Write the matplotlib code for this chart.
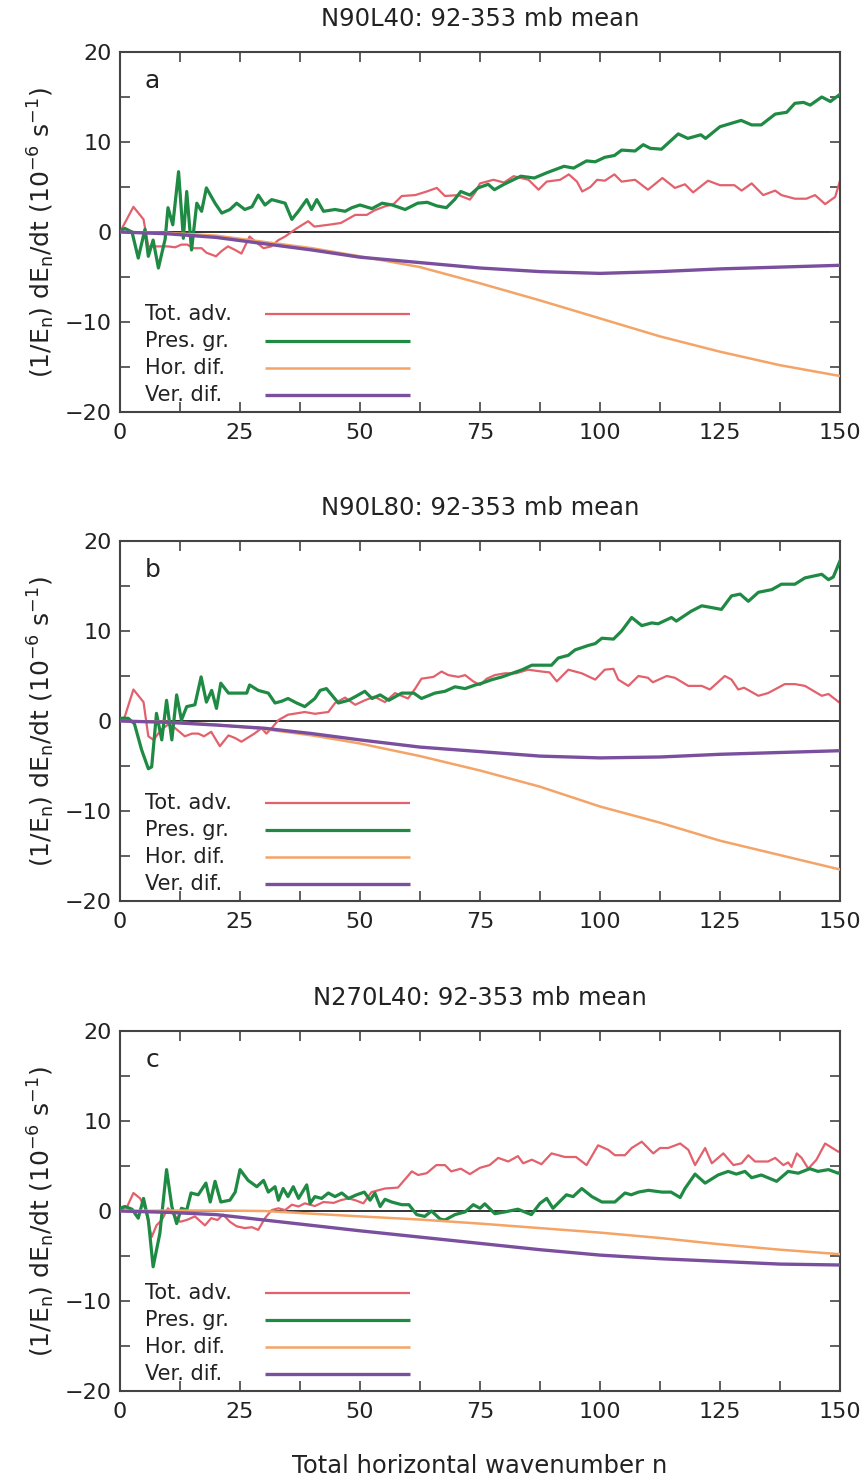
import numpy as np
import matplotlib
matplotlib.use("Agg")
import matplotlib.pyplot as plt

# ---- data: (1/E_n) dE_n/dt, 92-353 mb mean, units 1e-6 s^-1 ----
TITLES = ["N90L40: 92-353 mb mean", "N90L80: 92-353 mb mean", "N270L40: 92-353 mb mean"]
PANEL_TAGS = ["a", "b", "c"]
LABELS = ["Tot. adv.", "Pres. gr.", "Hor. dif.", "Ver. dif."]
COLORS = ["#e2616c", "#1f8a43", "#f4a466", "#7a4f9e"]
WIDTHS = [1.6, 2.3, 1.8, 2.4]

# smooth diffusion terms sampled on a common grid
N_SMOOTH = [0, 10, 20, 30, 40, 50, 62.5, 75, 87.5, 100, 112.5, 125, 137.5, 150]

# panel a
A_ADV_N = [0, 1, 2.8, 4.9, 5.9, 7.6, 10, 11.5, 12.8, 14, 15.3, 17, 18, 20, 21.2, 22.5, 24, 25.3, 27,
           28.5, 29.9, 31.5, 33, 34.4, 36.8, 39.2, 40.5, 43.4, 46, 49, 51.4, 53, 55.2, 57, 58.7, 61.5,
           63.9, 66, 67.7, 70.5, 72.9, 74, 75, 77.8, 80, 82, 85.1, 87.2, 88.9, 91.7, 93.5, 95.2, 96.3,
           98, 99.4, 101, 103, 104.5, 107.3, 110, 113, 115.6, 117.7, 119.4, 122.5, 125, 128, 129.5,
           131.6, 134, 136.5, 137.8, 140.6, 143, 144.8, 146.9, 149, 150]
A_ADV_V = [0.0, 1.0, 2.8, 1.4, -1.6, -1.6, -1.6, -1.7, -1.4, -1.4, -1.8, -1.8, -2.3, -2.7, -2.1, -1.6,
           -2.0, -2.4, -0.5, -1.2, -1.8, -1.6, -0.9, -0.5, 0.4, 1.2, 0.6, 0.8, 1.0, 1.9, 1.9, 2.4, 2.85,
           3.1, 4.0, 4.1, 4.5, 4.9, 4.0, 4.1, 3.6, 4.4, 5.4, 5.8, 5.5, 6.2, 5.8, 4.7, 5.6, 5.8, 6.4, 5.6,
           4.5, 5.0, 5.8, 5.7, 6.4, 5.6, 5.8, 4.7, 6.0, 4.9, 5.3, 4.4, 5.7, 5.2, 5.2, 4.6, 5.4, 4.1,
           4.6, 4.1, 3.7, 3.7, 4.1, 3.1, 3.9, 5.7]
A_PGF_N = [0, 1, 2.5, 3.8, 5.2, 5.9, 6.9, 8, 9.4, 10, 11, 12.2, 13.2, 13.9, 14.9, 16, 17, 18, 19.8,
           21.2, 22.9, 24.3, 26, 27.5, 28.8, 30.2, 31.6, 33, 34.4, 35.8, 37.3, 38.9, 39.9, 41, 42.4,
           44.8, 46.9, 48.3, 50, 52.5, 54.6, 56.7, 59.4, 62, 64, 66, 68, 69.7, 71, 72.9, 74.6, 76.7,
           78, 80, 83.5, 86.3, 89, 92.5, 94.5, 97.2, 99, 101, 103, 104.5, 107.3, 109, 110.5, 112.8,
           116.3, 118.3, 121, 122, 125, 129.4, 131.6, 133.6, 136.5, 138.9, 140.6, 142.4, 143.8, 146.2,
           148, 150]
A_PGF_V = [0.1, 0.4, 0.0, -2.9, 0.3, -2.7, -0.9, -4.0, -0.8, 2.7, 0.8, 6.7, -0.7, 4.5, -2.0, 3.2,
           2.3, 4.9, 3.2, 2.1, 2.5, 3.2, 2.5, 2.8, 4.1, 3.0, 3.6, 3.4, 3.2, 1.4, 2.4, 3.6, 2.5, 3.6, 2.3,
           2.5, 2.3, 2.7, 3.0, 2.6, 3.2, 3.0, 2.5, 3.2, 3.3, 2.9, 2.7, 3.6, 4.5, 4.1, 4.9, 5.3, 4.7, 5.3,
           6.2, 6.0, 6.6, 7.3, 7.1, 7.9, 7.8, 8.3, 8.5, 9.1, 9.0, 9.7, 9.3, 9.2, 10.9, 10.4, 10.8, 10.4,
           11.7, 12.4, 11.9, 11.9, 13.1, 13.3, 14.3, 14.4, 14.1, 15.0, 14.5, 15.3]
A_HDIF_V = [0, -0.1, -0.4, -1.1, -1.8, -2.7, -3.9, -5.7, -7.6, -9.6, -11.6, -13.3, -14.8, -16.0]
A_VDIF_V = [0, -0.2, -0.6, -1.3, -2.0, -2.8, -3.4, -4.0, -4.4, -4.6, -4.4, -4.1, -3.9, -3.7]

# panel b
B_ADV_N = [0, 1, 2.8, 4.9, 5.9, 7, 8.5, 10, 11.5, 13.5, 15, 16.3, 17.5, 19, 20.8, 22.6, 24, 25.3, 28,
           29.5, 30.5, 31.6, 33, 35, 36.8, 38.5, 40.6, 43.4, 44.8, 46.9, 49, 51, 53, 55.2, 57.3, 60,
           61.5, 62.8, 65.3, 67, 68.4, 70.5, 71.9, 73.6, 75, 76.4, 78.1, 80.2, 82.5, 85, 87.8, 89.5,
           91, 93.4, 96.2, 99, 101, 102.8, 103.8, 105.9, 108, 110, 111, 113.9, 115.6, 118.4, 121.2,
           122.9, 126, 127.4, 128.8, 130, 133, 135, 138.5, 140.6, 142.7, 146.2, 147.6, 150]
B_ADV_V = [0.0, 0.5, 3.5, 2.1, -1.7, -2.1, -1.0, -0.4, -0.8, -1.7, -1.4, -1.4, -1.7, -1.2, -2.8, -1.6,
           -1.9, -2.3, -1.4, -0.8, -1.4, -0.8, 0.1, 0.7, 0.85, 1.0, 0.8, 1.0, 2.0, 2.6, 1.8, 2.3, 2.7,
           2.1, 3.1, 2.5, 3.6, 4.7, 4.9, 5.5, 5.1, 4.9, 5.1, 4.4, 4.0, 4.7, 5.1, 5.3, 5.3, 5.7, 5.5, 5.4,
           4.4, 5.7, 5.3, 4.6, 5.7, 5.8, 4.6, 3.9, 5.0, 4.8, 4.3, 5.0, 4.8, 3.9, 3.9, 3.5, 5.0, 4.6, 3.5,
           3.7, 2.8, 3.1, 4.1, 4.1, 3.9, 2.8, 3.0, 2.0]
B_PGF_N = [0, 1.7, 3, 4.5, 5.9, 6.6, 7.6, 8.7, 9.7, 10.8, 11.8, 12.8, 13.9, 15.6, 16.9, 18, 19.1,
           20.1, 21, 22.6, 24.7, 26.4, 27, 28.8, 30.9, 32.3, 33.7, 35, 36.8, 38.5, 40.6, 41.7, 43,
           45.5, 47.6, 49, 51, 52.5, 54.2, 56, 58.7, 61.2, 62.8, 65.6, 67.7, 69.8, 71.9, 74, 75.4,
           77.5, 79.6, 81.7, 83.8, 85.8, 89.9, 91.3, 93.4, 94.8, 97.6, 99, 100.4, 102.8, 104.5,
           106.6, 108.7, 110.8, 112.1, 114.9, 115.9, 119, 121.2, 123.3, 125.3, 127.4, 129.2, 130.9,
           133, 135.8, 137.8, 140.6, 142.7, 146.2, 147.6, 148.6, 150]
B_PGF_V = [0.3, 0.3, -0.3, -3.2, -5.3, -5.1, 0.85, -2.1, 2.3, -2.1, 2.9, 0.1, 1.6, 1.8, 4.9, 2.1, 3.4,
           1.4, 4.2, 3.1, 3.1, 3.1, 4.0, 3.4, 3.1, 2.0, 2.2, 2.5, 2.0, 1.6, 2.5, 3.4, 3.6, 2.0, 2.3, 2.7,
           3.3, 2.5, 2.9, 2.3, 3.1, 3.1, 2.5, 3.1, 3.3, 3.8, 3.6, 4.0, 4.2, 4.6, 4.9, 5.3, 5.7, 6.2, 6.2,
           7.0, 7.3, 7.9, 8.4, 8.6, 9.2, 9.1, 10.0, 11.5, 10.6, 10.9, 10.8, 11.5, 11.1, 12.2, 12.8,
           12.6, 12.4, 13.9, 14.1, 13.3, 14.3, 14.6, 15.2, 15.2, 15.9, 16.3, 15.7, 16.0, 17.8]
B_HDIF_V = [0, -0.1, -0.4, -0.9, -1.6, -2.5, -3.9, -5.5, -7.3, -9.5, -11.3, -13.3, -14.9, -16.5]
B_VDIF_V = [0, -0.15, -0.45, -0.8, -1.4, -2.1, -2.9, -3.4, -3.9, -4.1, -4.0, -3.7, -3.5, -3.3]

# panel c
C_ADV_N = [0, 1.5, 2.8, 4.2, 5.3, 6.6, 7.6, 8.7, 10, 11.5, 12.5, 13.9, 15.6, 17.7, 19, 20.3, 21.5,
           22.9, 24.3, 26, 27.5, 28.8, 30.2, 31.6, 33, 34.4, 35.8, 37.2, 38.5, 40.6, 42.4, 44.5, 46,
           47.6, 49, 50.7, 52.4, 55.2, 57.9, 60.8, 62.1, 63.9, 65.9, 67.7, 69, 71, 72.9, 75, 77, 78.8,
           80.9, 82.9, 84, 85.8, 87.8, 89.9, 92.7, 95, 97.2, 99.6, 101.7, 103.1, 105.2, 106.6, 108.7,
           111.1, 112.5, 114.2, 116.7, 118.4, 119.8, 121.9, 123.3, 125.7, 127.8, 129.5, 130.9, 132.3,
           135, 136.5, 138.2, 139.2, 139.9, 141, 142, 143.4, 145.1, 146.9, 149.6, 150]
C_ADV_V = [0.1, 0.5, 2.0, 1.4, 0.2, -2.9, -1.6, -1.0, 0.3, -0.6, -1.2, -1.0, -0.6, -1.6, -0.8, -1.0,
           -0.4, -1.2, -1.7, -1.9, -1.8, -2.1, -0.8, 0.1, 0.3, 0.1, 0.7, 0.5, 0.85, 0.55, 1.0, 0.9, 1.2,
           1.4, 1.2, 0.85, 2.1, 2.5, 2.6, 4.4, 4.0, 4.2, 5.1, 5.1, 4.4, 4.7, 4.1, 4.8, 5.1, 5.9, 5.5, 6.1,
           5.3, 5.7, 5.2, 6.4, 6.0, 6.0, 5.1, 7.3, 6.8, 6.2, 6.2, 7.0, 7.7, 6.4, 7.0, 7.0, 7.5, 6.8, 5.1,
           7.0, 5.3, 6.4, 5.1, 5.3, 6.2, 5.5, 5.5, 5.9, 5.1, 5.4, 4.9, 6.4, 5.9, 4.7, 5.7, 7.5, 6.6, 6.6]
C_PGF_N = [0, 1, 2.5, 3.8, 4.9, 5.9, 6.9, 8.3, 9.7, 10.8, 11.8, 12.8, 13.9, 14.8, 16.3, 17.9, 18.8,
           19.8, 21, 22.9, 24, 25, 26.7, 28.5, 29.9, 30.9, 32.3, 33, 34, 35, 36.1, 37.2, 38.9, 39.6,
           40.6, 42, 43.4, 44.8, 46.2, 47.6, 49.3, 50.9, 52.1, 53.1, 54.2, 55.2, 56.6, 58.7, 60.2,
           61.8, 63.5, 64.9, 66.7, 67.7, 69.8, 71.9, 73.6, 75, 76, 78.1, 80.2, 82.9, 85.7, 87.5, 88.9,
           90.2, 93, 94.4, 96.2, 98.3, 100.4, 103.1, 105.2, 106.5, 108, 110.1, 112.9, 114.8, 116.7,
           117.7, 119.8, 121.9, 124.6, 126.7, 128.4, 130.2, 131.6, 133.6, 136.8, 139.2, 141.3, 143.7,
           145.4, 147.6, 149.6, 150]
C_PGF_V = [0.3, 0.5, 0.2, -0.8, 1.4, -1.0, -6.2, -2.5, 4.6, 0.5, -1.4, 0.3, 0.1, 2.0, 1.8, 3.1, 1.0,
           3.3, 1.0, 1.2, 2.1, 4.6, 3.4, 2.7, 3.4, 2.1, 2.7, 1.2, 2.5, 1.6, 2.7, 1.4, 2.9, 0.85, 1.6, 1.4,
           2.0, 1.6, 2.0, 1.4, 1.8, 2.1, 1.2, 2.0, 0.5, 1.3, 1.0, 0.7, 0.7, -0.4, -0.6, 0.0, -0.9, -1.0,
           -0.4, -0.1, 0.7, 0.3, 0.8, -0.3, -0.1, 0.2, -0.4, 0.85, 1.4, 0.3, 1.8, 1.6, 2.5, 1.6, 1.0,
           1.0, 2.0, 1.8, 2.1, 2.3, 2.1, 2.1, 1.5, 2.5, 4.1, 3.1, 4.0, 4.4, 4.1, 4.4, 3.7, 4.0, 3.3, 4.4,
           4.2, 4.7, 4.4, 4.6, 4.2, 4.3]
C_HDIF_V = [0, 0.05, 0.05, 0.0, -0.3, -0.6, -0.95, -1.4, -1.9, -2.4, -3.0, -3.7, -4.3, -4.8]
C_VDIF_V = [0, -0.15, -0.4, -1.0, -1.6, -2.2, -2.9, -3.6, -4.3, -4.9, -5.3, -5.6, -5.9, -6.0]

PANELS = [
    [(A_ADV_N, A_ADV_V), (A_PGF_N, A_PGF_V), (N_SMOOTH, A_HDIF_V), (N_SMOOTH, A_VDIF_V)],
    [(B_ADV_N, B_ADV_V), (B_PGF_N, B_PGF_V), (N_SMOOTH, B_HDIF_V), (N_SMOOTH, B_VDIF_V)],
    [(C_ADV_N, C_ADV_V), (C_PGF_N, C_PGF_V), (N_SMOOTH, C_HDIF_V), (N_SMOOTH, C_VDIF_V)],
]

W, H = 868, 1481
fig = plt.figure(figsize=(W / 100, H / 100), dpi=100)

AX_LEFT, AX_RIGHT = 120, 840
AX_TOPS = [52, 541, 1031]
AX_H = 360
SPINE = "#444444"
INK = "#222222"

# key rows (axes fraction): text at left, line sample to the right
KEY_Y = [0.272, 0.197, 0.122, 0.047]

for i, (title, tag, series) in enumerate(zip(TITLES, PANEL_TAGS, PANELS)):
    top = AX_TOPS[i]
    ax = fig.add_axes([AX_LEFT / W, 1 - (top + AX_H) / H,
                       (AX_RIGHT - AX_LEFT) / W, AX_H / H])

    # zero line
    ax.axhline(0, color="#333333", lw=1.4, zorder=1)

    # draw order: diffusion under, advection / pressure on top
    for k in [3, 2, 0, 1]:
        n, v = series[k]
        ax.plot(n, v, color=COLORS[k], lw=WIDTHS[k], zorder=2 + k)

    # hand-made key, left-aligned labels like the original
    for k, lab in enumerate(LABELS):
        ax.text(0.035, KEY_Y[k], lab, transform=ax.transAxes, fontsize=15, color=INK,
                ha="left", va="center")
        ax.plot([0.201, 0.403], [KEY_Y[k], KEY_Y[k]], transform=ax.transAxes,
                color=COLORS[k], lw=WIDTHS[k], solid_capstyle="butt")

    ax.set_xlim(0, 150)
    ax.set_ylim(-20, 20)
    ax.set_xticks(np.arange(0, 151, 25))
    ax.set_xticks(np.arange(0, 151, 12.5), minor=True)
    ax.set_yticks(np.arange(-20, 21, 10))
    ax.set_yticks(np.arange(-20, 21, 5), minor=True)
    ax.tick_params(which="both", direction="in", top=True, right=True,
                   length=7, width=1.2, color=SPINE, labelsize=16, labelcolor=INK)
    ax.tick_params(axis="x", pad=8)
    ax.tick_params(axis="y", pad=6)
    ax.set_yticklabels(["\u221220", "\u221210", "0", "10", "20"])
    for s in ax.spines.values():
        s.set_color(SPINE)
        s.set_linewidth(1.5)

    ax.set_title(title, fontsize=17.5, color=INK, pad=19)
    ax.text(0.045, 0.92, tag, transform=ax.transAxes, fontsize=18, color=INK,
            ha="center", va="center")
    ax.set_ylabel(r"(1/E$_{\rm n}$) dE$_{\rm n}$/dt (10$^{-6}$ s$^{-1}$)", fontsize=18,
                  color=INK)
    ax.yaxis.set_label_coords(-0.088, 0.5)

fig.text((AX_LEFT + AX_RIGHT) / 2 / W, 1 - 1466 / H, "Total horizontal wavenumber n",
         ha="center", va="center", fontsize=17.5, color=INK)

fig.savefig("out.png", dpi=100)
